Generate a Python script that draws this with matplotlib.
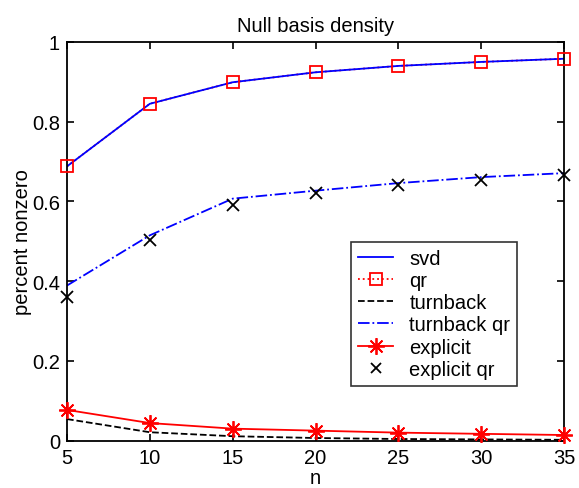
import numpy as np
import matplotlib
matplotlib.use("Agg")
from matplotlib import pyplot as plt
from matplotlib.lines import Line2D

plt.rcParams['font.family'] = ['Liberation Sans', 'DejaVu Sans']

# problem sizes
n = [5, 10, 15, 20, 25, 30, 35]

# fraction of nonzeros in the null basis for each method
svd = [0.688, 0.845, 0.899, 0.924, 0.940, 0.950, 0.958]
qr = [0.688, 0.845, 0.899, 0.924, 0.940, 0.950, 0.958]
turnback = [0.054, 0.021, 0.011, 0.0065, 0.004, 0.003, 0.002]
turnback_qr = [0.389, 0.515, 0.607, 0.627, 0.646, 0.661, 0.671]
explicit = [0.077, 0.044, 0.030, 0.025, 0.020, 0.017, 0.014]
explicit_qr = [0.36, 0.504, 0.592, 0.621, 0.640, 0.653, 0.667]

fig = plt.figure(figsize=(5.79, 4.89), dpi=100)
ax = fig.add_axes([67/579, 1 - 441.6/489, (564 - 67)/579, (441.6 - 43)/489])

lw = 1.3
star = (8, 2, 0)  # matlab style asterisk

# qr dotted line sits under the svd line, its squares on top
ax.plot(n, qr, ':', color='red', lw=lw, zorder=1.5)
ax.plot(n, svd, '-', color='blue', lw=lw, zorder=2)
ax.plot(n, qr, 's', color='red', ms=9, mfc='none', mew=1.3, zorder=3, clip_on=False)
ax.plot(n, turnback, '--', color='black', lw=lw, zorder=2)
ax.plot(n, turnback_qr, '-.', color='blue', lw=lw, zorder=2)
ax.plot(n, explicit, '-', color='red', lw=lw, marker=star, ms=12, mew=1.3,
        zorder=3, clip_on=False)
ax.plot(n, explicit_qr, 'x', color='black', ms=8, mew=1.3, zorder=3, clip_on=False)

ax.set_xlim(5, 35)
ax.set_ylim(0, 1)
ax.set_xticks([5, 10, 15, 20, 25, 30, 35])
ax.set_yticks([0, 0.2, 0.4, 0.6, 0.8, 1])
ax.set_yticklabels(['0', '0.2', '0.4', '0.6', '0.8', '1'])
ax.tick_params(direction='in', top=True, right=True, length=5, width=1.2, labelsize=14.5, pad=5)
for s in ax.spines.values():
    s.set_linewidth(1.3)
    s.set_zorder(2.5)

ax.set_title('Null basis density', fontsize=14.5, pad=8)
ax.set_xlabel('n', fontsize=14.5, labelpad=1)
ax.set_ylabel('percent nonzero', fontsize=14.5, labelpad=0)

handles = [
    Line2D([], [], ls='-', color='blue', lw=lw),
    Line2D([], [], ls=':', color='red', lw=lw, marker='s', ms=9, mfc='none', mew=1.3),
    Line2D([], [], ls='--', color='black', lw=lw),
    Line2D([], [], ls='-.', color='blue', lw=lw),
    Line2D([], [], ls='-', color='red', lw=lw, marker=star, ms=12, mew=1.3),
    Line2D([], [], ls='none', color='black', marker='x', ms=7, mew=1.3),
]
labels = ['svd', 'qr', 'turnback', 'turnback qr', 'explicit', 'explicit qr']

leg = ax.legend(handles, labels, loc='upper left',
                bbox_to_anchor=((351 - 67)/497, (441.6 - 242.7)/398.6),
                fontsize=14.5, frameon=True, fancybox=False, edgecolor='black',
                borderpad=0.35, labelspacing=0.16, handlelength=1.75, handletextpad=0.8,
                borderaxespad=0, markerscale=1.0)
leg.get_frame().set_linewidth(1.2)

fig.savefig('out.png', dpi=100)
